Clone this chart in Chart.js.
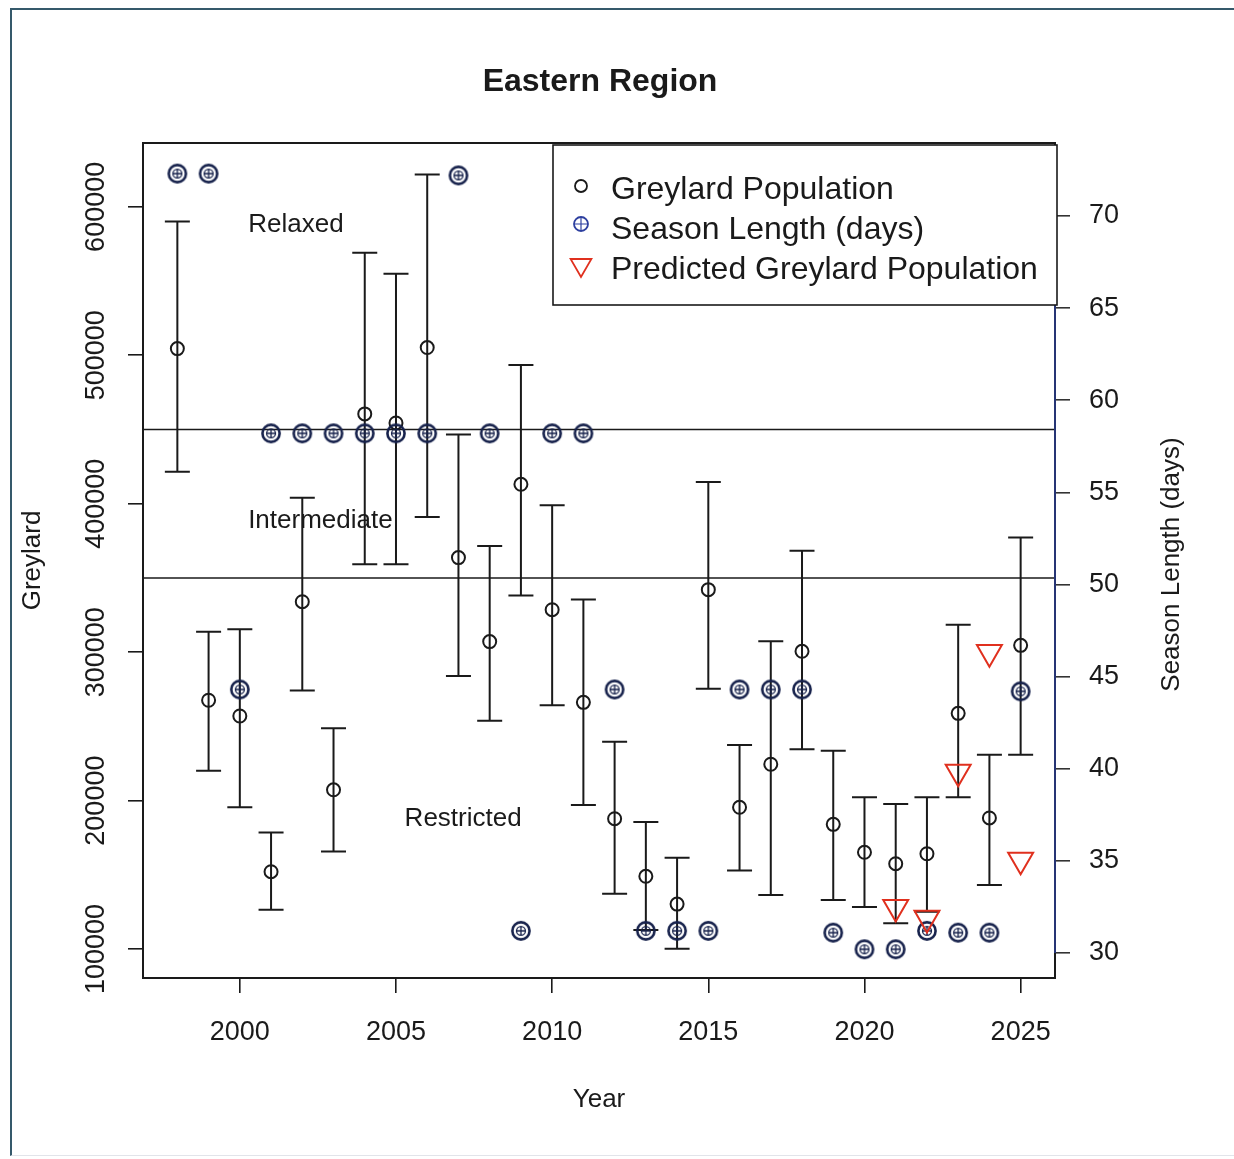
<!DOCTYPE html>
<html>
<head>
<meta charset="utf-8">
<title>Eastern Region</title>
<script src="https://cdn.jsdelivr.net/npm/chart.js@4.4.1/dist/chart.umd.min.js"></script>
<style>
  html, body { margin: 0; padding: 0; background: #fff; }
  #wrap { position: relative; width: 1234px; height: 1159px; overflow: hidden; }
  #frame {
    position: absolute; left: 10px; top: 8px; right: -4px; bottom: 3px;
    border-top: 2px solid #35596b; border-left: 2px solid #35596b;
    border-bottom: 1px solid #e2e4ea;
  }
  canvas { position: absolute; left: 0; top: 0; }
</style>
</head>
<body>
<div id="wrap">
  <div id="frame"></div>
  <canvas id="regionChart" width="1234" height="1159"></canvas>
</div>
<script>
// Survey years and observed greylard counts with their error ranges
const years = [1998, 1999, 2000, 2001, 2002, 2003, 2004, 2005, 2006, 2007, 2008, 2009, 2010, 2011,
               2012, 2013, 2014, 2015, 2016, 2017, 2018, 2019, 2020, 2021, 2022, 2023, 2024, 2025];
const population = [504500, 267600, 257000, 152100, 334000, 207300, 460500, 454400, 505200, 363700,
                    307100, 413100, 328600, 266200, 187800, 149000, 130300, 342100, 195500, 224500,
                    300600, 184000, 165200, 157500, 164200, 258800, 188300, 304600];
const popHigh = [590100, 313800, 315400, 178600, 404100, 248700, 569000, 554900, 621800, 446600,
                 371600, 493500, 399000, 335400, 239700, 185600, 161500, 414700, 237500, 307300,
                 368400, 233600, 202200, 197700, 202200, 318500, 230900, 377200];
const popLow = [421600, 220100, 195500, 126500, 274100, 165800, 359200, 359200, 391100, 284000,
                253800, 338100, 264200, 197000, 137300, 112800, 100200, 275400, 153000, 136400,
                234600, 133000, 128300, 117300, 125100, 202200, 143100, 230900];

// Season length (days), one per survey year
const seasonDays = [72.3, 72.3, 44.3, 58.2, 58.2, 58.2, 58.2, 58.2, 58.2, 72.2, 58.2, 31.2, 58.2, 58.2,
                    44.3, 31.2, 31.2, 31.2, 44.3, 44.3, 44.3, 31.1, 30.2, 30.2, 31.2, 31.1, 31.1, 44.2];

// Model predictions
const predYears = [2021, 2022, 2023, 2024, 2025];
const predicted = [128200, 120900, 219300, 299900, 160100];

// Management thresholds and their labels
const thresholds = [450000, 350000];
const regionNames = ['Relaxed', 'Intermediate', 'Restricted'];
const regionAt = [[2001.8, 587700], [2002.58, 388600], [2007.15, 187600]];

// Axis ticks and ranges
const yearTicks = [2000, 2005, 2010, 2015, 2020, 2025];
const popTicks = [100000, 200000, 300000, 400000, 500000, 600000];
const seasonTicks = [30, 35, 40, 45, 50, 55, 60, 65, 70];
const xRange = [1996.9, 2026.1];
const popRange = [80500, 643000];
const seasonRange = [28.64, 73.96];

const FONT = "'Liberation Sans', Arial, Helvetica, sans-serif";
const INK = '#1a1a1a';
const NAVY = '#17224c';
const RED = '#e0301e';

Chart.defaults.font.family = FONT;
Chart.defaults.color = INK;

// circle-plus marker for season length
function drawCirclePlus(ctx, cx, cy, r, color, lw, inner) {
    ctx.save();
    ctx.strokeStyle = color;
    ctx.lineWidth = lw;
    ctx.beginPath();
    ctx.arc(cx, cy, r, 0, Math.PI * 2);
    ctx.stroke();
    const ri = r * inner;
    ctx.lineWidth = inner < 1 ? lw * 0.5 : lw * 0.65;
    ctx.beginPath();
    if (inner < 1) ctx.arc(cx, cy, ri, 0, Math.PI * 2);
    ctx.moveTo(cx - ri, cy);
    ctx.lineTo(cx + ri, cy);
    ctx.moveTo(cx, cy - ri);
    ctx.lineTo(cx, cy + ri);
    ctx.stroke();
    ctx.restore();
}

const seasonMarker = document.createElement('canvas');
seasonMarker.width = 24;
seasonMarker.height = 24;
drawCirclePlus(seasonMarker.getContext('2d'), 12, 12, 8.6, NAVY, 2.6, 0.52);

function tickSetter(list) {
    return scale => { scale.ticks = list.map(v => ({ value: v })); };
}
const plainNumber = v => String(v);

// error bars behind the points
const errorBars = {
    id: 'errorBars',
    beforeDatasetsDraw(chart) {
        const { ctx, scales: { x, y } } = chart;
        ctx.save();
        ctx.strokeStyle = INK;
        ctx.lineWidth = 2;
        years.forEach((yr, i) => {
            const px = x.getPixelForValue(yr);
            const top = y.getPixelForValue(popHigh[i]);
            const bot = y.getPixelForValue(popLow[i]);
            ctx.beginPath();
            ctx.moveTo(px, top);
            ctx.lineTo(px, bot);
            ctx.moveTo(px - 12.5, top);
            ctx.lineTo(px + 12.5, top);
            ctx.moveTo(px - 12.5, bot);
            ctx.lineTo(px + 12.5, bot);
            ctx.stroke();
        });
        ctx.restore();
    }
};

// plot box, right axis line and title, region labels and legend
const decorations = {
    id: 'decorations',
    afterDraw(chart) {
        const { ctx, chartArea: a, scales: { x, y, y2 } } = chart;
        ctx.save();

        ctx.strokeStyle = INK;
        ctx.lineWidth = 2;
        ctx.strokeRect(a.left, a.top, a.right - a.left, a.bottom - a.top);

        ctx.strokeStyle = '#2a3c8c';
        ctx.lineWidth = 1.6;
        ctx.beginPath();
        ctx.moveTo(a.right, y2.getPixelForValue(seasonTicks[0]));
        ctx.lineTo(a.right, y2.getPixelForValue(seasonTicks[seasonTicks.length - 1]));
        ctx.stroke();

        ctx.fillStyle = INK;
        ctx.font = '26px ' + FONT;
        ctx.textAlign = 'center';
        ctx.textBaseline = 'middle';
        ctx.save();
        ctx.translate(1172, (a.top + a.bottom) / 2 + 4);
        ctx.rotate(-Math.PI / 2);
        ctx.fillText('Season Length (days)', 0, 0);
        ctx.restore();

        regionNames.forEach((name, i) => {
            ctx.fillText(name, x.getPixelForValue(regionAt[i][0]), y.getPixelForValue(regionAt[i][1]));
        });

        // legend
        const lx = 553, ly = 145, lw = 504, lh = 160;
        ctx.fillStyle = '#fff';
        ctx.fillRect(lx, ly, lw, lh);
        ctx.strokeStyle = INK;
        ctx.lineWidth = 1.6;
        ctx.strokeRect(lx, ly, lw, lh);

        const sx = 581;
        ctx.lineWidth = 1.8;
        ctx.beginPath();
        ctx.arc(sx, 186, 6, 0, Math.PI * 2);
        ctx.stroke();

        drawCirclePlus(ctx, sx, 224, 7, '#2d3f9f', 1.8, 1);

        ctx.strokeStyle = RED;
        ctx.lineWidth = 1.8;
        ctx.beginPath();
        ctx.moveTo(sx - 10.4, 259);
        ctx.lineTo(sx + 10.4, 259);
        ctx.lineTo(sx, 277);
        ctx.closePath();
        ctx.stroke();

        ctx.fillStyle = INK;
        ctx.font = '32px ' + FONT;
        ctx.textAlign = 'left';
        ctx.fillText('Greylard Population', 611, 190);
        ctx.fillText('Season Length (days)', 611, 230);
        ctx.fillText('Predicted Greylard Population', 611, 270);

        ctx.restore();
    }
};

const thresholdSets = thresholds.map(t => ({
    label: 'threshold ' + t,
    data: [{ x: xRange[0], y: t }, { x: xRange[1], y: t }],
    showLine: true,
    borderColor: INK,
    borderWidth: 1.6,
    pointRadius: 0,
    yAxisID: 'y'
}));

new Chart(document.getElementById('regionChart'), {
    type: 'scatter',
    data: {
        datasets: [
            {
                label: 'Predicted Greylard Population',
                data: predYears.map((yr, i) => ({ x: yr, y: predicted[i] })),
                pointStyle: 'triangle',
                rotation: 180,
                pointRadius: 14.4,
                borderColor: RED,
                borderWidth: 2,
                backgroundColor: 'transparent',
                yAxisID: 'y'
            },
            {
                label: 'Season Length (days)',
                data: years.map((yr, i) => ({ x: yr, y: seasonDays[i] })),
                pointStyle: seasonMarker,
                borderColor: NAVY,
                backgroundColor: 'transparent',
                yAxisID: 'y2'
            },
            {
                label: 'Greylard Population',
                data: years.map((yr, i) => ({ x: yr, y: population[i] })),
                pointRadius: 6.5,
                borderColor: INK,
                borderWidth: 2,
                backgroundColor: 'transparent',
                yAxisID: 'y'
            },
            ...thresholdSets
        ]
    },
    options: {
        responsive: false,
        animation: false,
        events: [],
        layout: { padding: { left: 0, right: 34, top: 0, bottom: 0 } },
        plugins: {
            legend: { display: false },
            tooltip: { enabled: false },
            title: {
                display: true,
                text: 'Eastern Region',
                color: INK,
                font: { size: 32, weight: 'bold' },
                padding: { top: 62.8, bottom: 41.8 }
            }
        },
        scales: {
            x: {
                type: 'linear',
                min: xRange[0],
                max: xRange[1],
                afterBuildTicks: tickSetter(yearTicks),
                afterFit: s => { s.height = 181; },
                grid: { drawOnChartArea: false, drawTicks: true, tickLength: 15, color: INK, lineWidth: 1.6 },
                border: { display: false },
                ticks: { font: { size: 27 }, color: INK, padding: 23, maxRotation: 0, callback: plainNumber },
                title: { display: true, text: 'Year', font: { size: 26 }, color: INK, padding: { top: 0, bottom: 44 } }
            },
            y: {
                type: 'linear',
                position: 'left',
                min: popRange[0],
                max: popRange[1],
                afterBuildTicks: tickSetter(popTicks),
                afterFit: s => { s.width = 143; },
                grid: { drawOnChartArea: false, drawTicks: true, tickLength: 15, color: INK, lineWidth: 1.6 },
                border: { display: false },
                ticks: { font: { size: 27 }, color: INK, minRotation: 90, maxRotation: 90, crossAlign: 'center', padding: -14, callback: plainNumber },
                title: { display: true, text: 'Greylard', font: { size: 26 }, color: INK, padding: { top: 17.4, bottom: 0 } }
            },
            y2: {
                type: 'linear',
                position: 'right',
                min: seasonRange[0],
                max: seasonRange[1],
                afterBuildTicks: tickSetter(seasonTicks),
                afterFit: s => { s.width = 145; },
                grid: { drawOnChartArea: false, drawTicks: true, tickLength: 15, color: '#333', lineWidth: 1.6 },
                border: { display: false },
                ticks: { font: { size: 27 }, color: INK, padding: 19, callback: plainNumber }
            }
        }
    },
    plugins: [errorBars, decorations]
});
</script>
</body>
</html>
